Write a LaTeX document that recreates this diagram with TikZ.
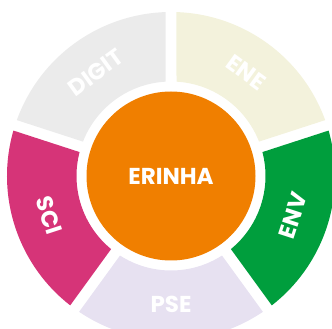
\documentclass[tikz,border=0pt]{standalone}
\usepackage{fontspec}
\setmainfont{Poppins}
\definecolor{corange}{RGB}{240,127,0}
\definecolor{cdigit}{RGB}{235,235,235}
\definecolor{cene}{RGB}{243,242,220}
\definecolor{cenv}{RGB}{0,158,61}
\definecolor{cpse}{RGB}{231,225,241}
\definecolor{csci}{RGB}{214,52,120}
\tikzset{
  lbl/.style={text=white, font=\fontsize{23}{26}\selectfont\bfseries, inner sep=0pt},
  hub/.style={circle, fill=corange, minimum size=169pt, inner sep=0pt, text=white, font=\fontsize{23}{26}\selectfont\bfseries}
}
\begin{document}
\begin{tikzpicture}[x=1pt,y=1pt]
\useasboundingbox (0,0) rectangle (332,329);
\begin{scope}[shift={(171,153)}]
\def\Ro{164}
\def\Ri{94.5}
\def\g{5.5}
\pgfmathsetmacro\dO{asin(\g/\Ro)}
\pgfmathsetmacro\dI{asin(\g/\Ri)}
\foreach \a/\col/\lab/\rot in {90/cdigit/DIGIT/36, 18/cene/ENE/-36, -54/cenv/ENV/72, -126/cpse/PSE/0, -198/csci/SCI/-72} {
  \fill[\col] (\a+\dO:\Ro) arc[start angle=\a+\dO, end angle=\a+72-\dO, radius=\Ro]
     -- (\a+72-\dI:\Ri) arc[start angle=\a+72-\dI, end angle=\a+\dI, radius=\Ri] -- cycle;
  \node[lbl, rotate=\rot] (n-\lab) at (\a+36:128) {\lab};
}
\node[hub] (erinha) at (0,0) {ERINHA};
\end{scope}
\end{tikzpicture}
\end{document}
